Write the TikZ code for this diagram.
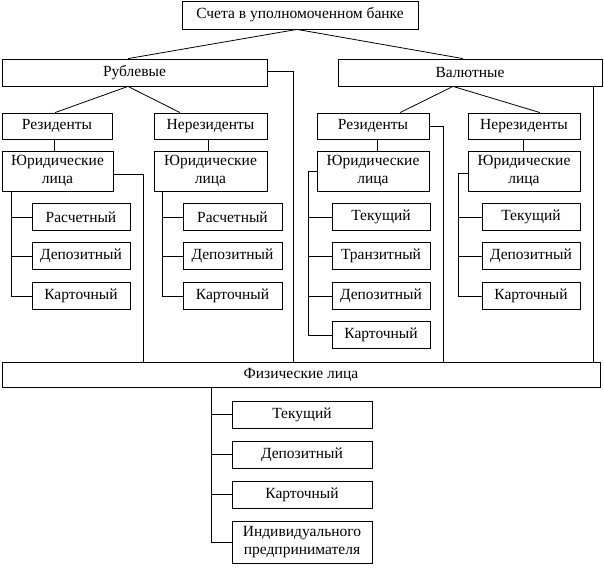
\documentclass[tikz,border=0pt]{standalone}
\usepackage{fontspec}
\setmainfont{Liberation Serif}
\usepackage{tikz}
\usetikzlibrary{calc}

\tikzset{
  box/.style={draw, line width=0.8pt, inner sep=0pt, align=center,
    font=\fontsize{15.5}{18.5}\selectfont},
  leaf/.style={box, minimum width=98pt, minimum height=27pt},
  link/.style={line width=0.8pt}
}

\begin{document}
\begin{tikzpicture}[x=1pt, y=-1pt]
  \useasboundingbox (0,0) rectangle (604,568);

  \node[box, minimum width=236pt, minimum height=28pt] (bank) at (300,15) {Счета в уполномоченном банке};
  \node[box, minimum width=265pt, minimum height=27pt] (rub) at (134.5,72.5) {Рублевые};
  \node[box, minimum width=264pt, minimum height=27pt] (val) at (470,72.5) {Валютные};

  \node[box, minimum width=110pt, minimum height=26pt] (r-res) at (57,126) {Резиденты};
  \node[box, minimum width=113pt, minimum height=26pt] (r-nres) at (210.5,126) {Нерезиденты};
  \node[box, minimum width=112pt, minimum height=26pt] (v-res) at (373,126) {Резиденты};
  \node[box, minimum width=112pt, minimum height=26pt] (v-nres) at (524,126) {Нерезиденты};

  \node[box, minimum width=111pt, minimum height=40pt] (r-res-jur) at (57.5,171) {Юридические\\лица};
  \node[box, minimum width=113pt, minimum height=40pt] (r-nres-jur) at (210.5,171) {Юридические\\лица};
  \node[box, minimum width=112pt, minimum height=40pt] (v-res-jur) at (373,171) {Юридические\\лица};
  \node[box, minimum width=112pt, minimum height=40pt] (v-nres-jur) at (524,171) {Юридические\\лица};

  \node[box, minimum width=598pt, minimum height=25pt] (fiz) at (301,374.5) {Физические лица};

  % leaves of the legal entities
  \node[leaf] (a1) at (81,217) {Расчетный};
  \node[leaf] (a2) at (81,256) {Депозитный};
  \node[leaf] (a3) at (81,296) {Карточный};

  \node[leaf, minimum width=99pt] (b1) at (232.5,217) {Расчетный};
  \node[leaf, minimum width=99pt] (b2) at (232.5,256) {Депозитный};
  \node[leaf, minimum width=99pt] (b3) at (232.5,296) {Карточный};

  \node[leaf] (c1) at (381,217) {Текущий};
  \node[leaf] (c2) at (381,256) {Транзитный};
  \node[leaf] (c3) at (381,296) {Депозитный};
  \node[leaf] (c4) at (381,335) {Карточный};

  \node[leaf] (d1) at (531,217) {Текущий};
  \node[leaf] (d2) at (531,256) {Депозитный};
  \node[leaf] (d3) at (531,296) {Карточный};

  % leaves of the individuals
  \node[leaf, minimum width=140pt] (e1) at (302,414.5) {Текущий};
  \node[leaf, minimum width=140pt] (e2) at (302,454.5) {Депозитный};
  \node[leaf, minimum width=140pt] (e3) at (302,494.5) {Карточный};
  \node[leaf, minimum width=140pt, minimum height=42pt] (e4) at (302,542) {Индивидуального\\предпринимателя};

  % tree lines
  \draw[link] ($(bank.south)+(-3,0)$) -- ($(rub.north)+(-6.5,0)$);
  \draw[link] ($(bank.south)+(-3,0)$) -- ($(val.north)+(-7,0)$);
  \draw[link] ($(rub.south)+(-6.5,0)$) -- ($(r-res.north)+(-2,0)$);
  \draw[link] ($(rub.south)+(-6.5,0)$) -- ($(r-nres.north)+(-30.5,0)$);
  \draw[link] ($(val.south)+(-17,0)$) -- ($(v-res.north)+(27,0)$);
  \draw[link] ($(val.south)+(-17,0)$) -- ($(v-nres.north)+(16,0)$);

  \draw[link] ($(r-res.south)+(-3,0)$) -- ($(r-res-jur.north)+(-3.5,0)$);
  \draw[link] ($(r-nres.south)+(-2.5,0)$) -- ($(r-nres-jur.north)+(-2.5,0)$);
  \draw[link] ($(v-res.south)+(4,0)$) -- ($(v-res-jur.north)+(4,0)$);
  \draw[link] ($(v-nres.south)+(-1,0)$) -- ($(v-nres-jur.north)+(-1,0)$);

  % lines down to the individuals
  \draw[link] (rub.east |- 0,71) -| (fiz.north -| 293,0);
  \draw[link] (val.south -| 593,0) -- (fiz.north -| 593,0);
  \draw[link] (v-res.east) -| (fiz.north -| 443,0);
  \draw[link] (r-res-jur.east |- 0,174) -| (fiz.north -| 143,0);

  % side lines to the leaves
  \draw[link] (r-res-jur.south -| 11,0) |- (a3.west);
  \draw[link] (a1.west) -- (a1.west -| 11,0);
  \draw[link] (a2.west) -- (a2.west -| 11,0);

  \draw[link] (r-nres-jur.south -| 162,0) |- (b3.west);
  \draw[link] (b1.west) -- (b1.west -| 162,0);
  \draw[link] (b2.west) -- (b2.west -| 162,0);

  \draw[link] (v-res-jur.west) -- (v-res-jur.west -| 308,0) |- (c4.west);
  \draw[link] (c1.west) -- (c1.west -| 308,0);
  \draw[link] (c2.west) -- (c2.west -| 308,0);
  \draw[link] (c3.west) -- (c3.west -| 308,0);

  \draw[link] (v-nres-jur.west |- 0,173) -- (458,173) |- (d3.west);
  \draw[link] (d1.west) -- (d1.west -| 458,0);
  \draw[link] (d2.west) -- (d2.west -| 458,0);

  \draw[link] (fiz.south -| 211,0) |- (e4.west);
  \draw[link] (e1.west) -- (e1.west -| 211,0);
  \draw[link] (e2.west) -- (e2.west -| 211,0);
  \draw[link] (e3.west) -- (e3.west -| 211,0);

\end{tikzpicture}
\end{document}
